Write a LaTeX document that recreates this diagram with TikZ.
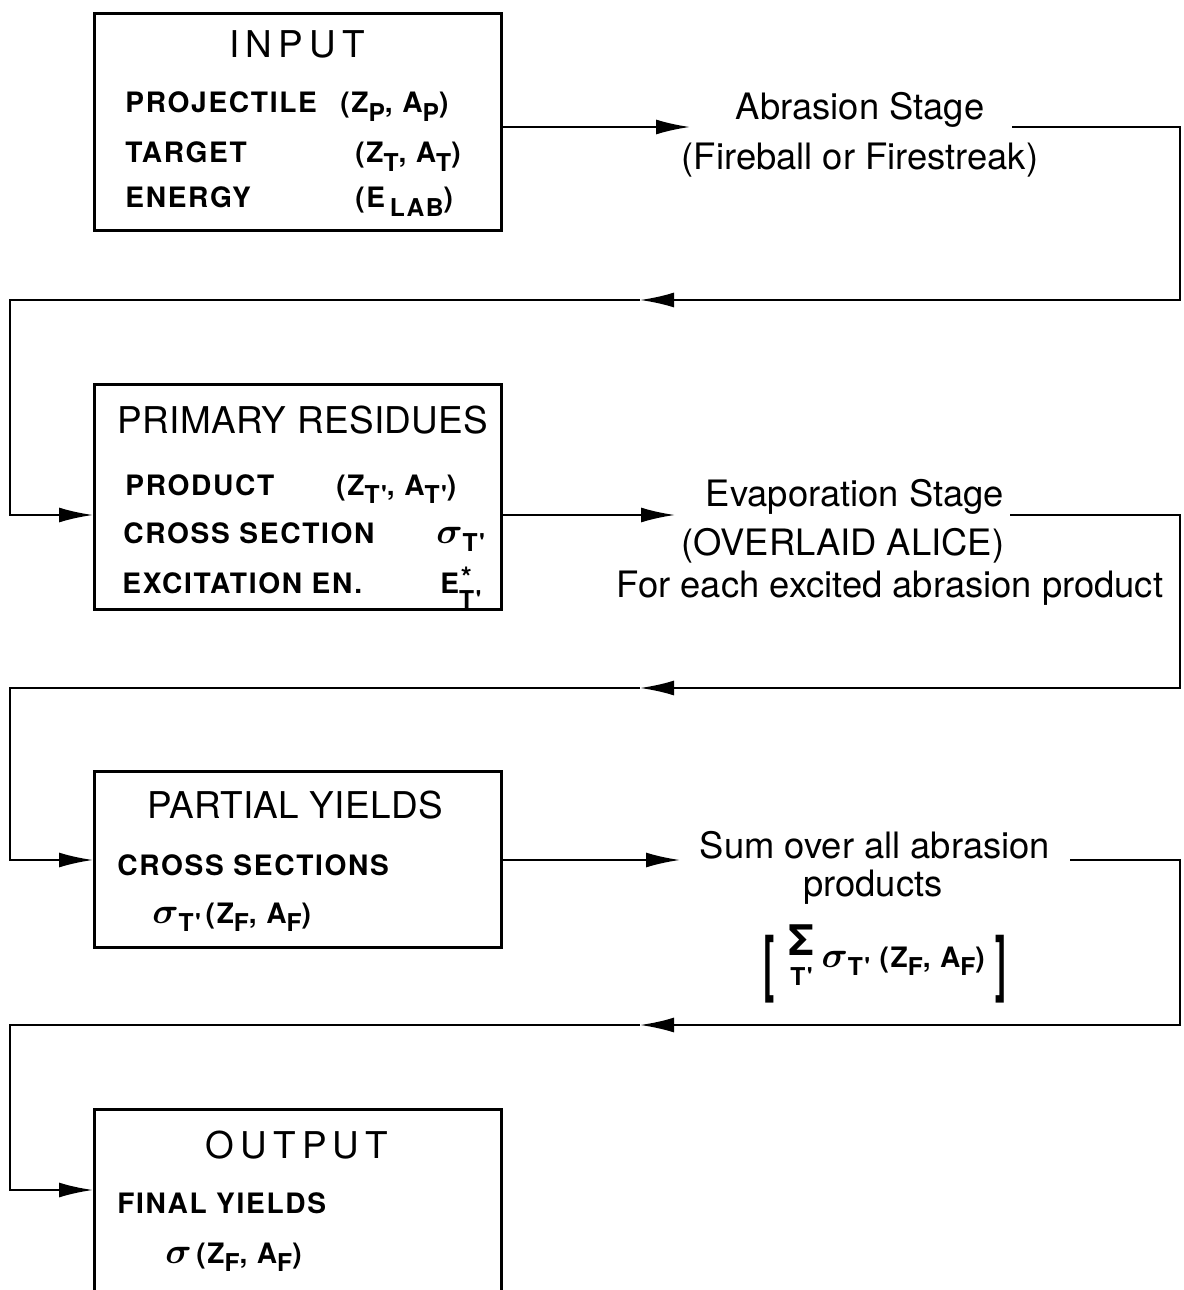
\documentclass[tikz,border=0pt]{standalone}
\usepackage{fontspec}
\usepackage{graphicx}
\usepackage{bm}
\setmainfont{TeX Gyre Heros}
\newfontfamily\labfont[LetterSpace=6]{TeX Gyre Heros}
\newfontfamily\ttlfont[LetterSpace=1]{TeX Gyre Heros}
\usetikzlibrary{arrows.meta}
\newcommand{\lowsub}[1]{\raisebox{-0.55ex}{\fontsize{14}{14}\selectfont #1}}
\newcommand{\estar}[1]{\raisebox{-1.05ex}{\begin{tabular}[b]{@{}l@{}}\fontsize{16}{16}\selectfont\hspace{1pt}*\\[-7pt]\fontsize{14}{14}\selectfont #1\end{tabular}}}
\newcommand{\sgm}{\scalebox{1.2}{$\bm\sigma$}}
\begin{document}
\begin{tikzpicture}[x=0.02cm,y=-0.02cm,
  box/.style={draw,line width=1.9pt,inner sep=0,anchor=north west,minimum width=8.14cm},
  conn/.style={line width=1.3pt},
  arr/.style={-{Latex[length=0.68cm,width=0.3cm]}},
  ttl/.style={font=\ttlfont\fontsize{21}{25}\selectfont,anchor=base,inner sep=0},
  lab/.style={font=\labfont\bfseries\fontsize{16}{19}\selectfont,anchor=base west,inner sep=0},
  side/.style={font=\fontsize{20.7}{24}\selectfont,anchor=base,inner sep=0}]
\useasboundingbox (0,0) rectangle (1183,1290);
\fill[white] (0,0) rectangle (1183,1290);
\clip (0,0) rectangle (1183,1290);

% boxes
\node[box,minimum height=4.34cm] (inbox) at (93,12) {};
\node[box,minimum height=4.5cm] (prbox) at (93,383) {};
\node[box,minimum height=3.52cm] (pybox) at (93,770) {};
\node[box,minimum height=4.2cm] (outbox) at (93,1108) {};

% INPUT
\node[ttl] (tin) at (297,58) {I\,N\,P\,U\,T};
\node[lab] (l1) at (125,113) {PROJECTILE};
\node[lab] (v1) at (340,113) {(Z\lowsub{P}, A\lowsub{P})};
\node[lab] (l2) at (125,163) {TARGET};
\node[lab] (v2) at (355,163) {(Z\lowsub{T}, A\lowsub{T})};
\node[lab] (l3) at (125,208) {ENERGY};
\node[lab] (v3) at (355,208) {(E\,\lowsub{LAB})};

% PRIMARY RESIDUES
\node[ttl] (tpr) at (303,433) {PRIMARY RESIDUES};
\node[lab] (l4) at (125,495) {PRODUCT};
\node[lab] (v4) at (336,495) {(Z\lowsub{T'}, A\lowsub{T'})};
\node[lab] (l5) at (123,543) {CROSS SECTION};
\node[lab] (v5) at (436,543) {\sgm\lowsub{T'}};
\node[lab] (l6) at (122,593) {EXCITATION EN.};
\node[lab] (v6) at (440,593) {E\estar{T'}};

% PARTIAL YIELDS
\node[ttl] (tpy) at (295,818) {PARTIAL YIELDS};
\node[lab] (l7) at (117,875) {CROSS SECTIONS};
\node[lab] (v7) at (152,923) {\sgm\lowsub{T'}\,(Z\lowsub{F}, A\lowsub{F})};

% OUTPUT
\node[ttl] (tout) at (297,1158) {O\,U\,T\,P\,U\,T};
\node[lab] (l8) at (117,1213) {FINAL YIELDS};
\node[lab] (v8) at (165,1263) {\sgm\,(Z\lowsub{F}, A\lowsub{F})};

% side texts
\node[side] (abr1) at (860,120) {Abrasion Stage};
\node[side] (abr2) at (860,170) {(Fireball or Firestreak)};
\node[side] (ev1) at (855,506) {Evaporation Stage};
\node[side] (ev2) at (843,555) {(OVERLAID ALICE)};
\node[side] (ev3) at (890,597) {For each excited abrasion product};
\node[side] (s1) at (875,858) {Sum over all abrasion};
\node[side] (s2) at (873,896) {products};
\node[lab,anchor=center] (s3) at (885,964) {\raisebox{-0.75em}{\scalebox{1.2}[2.6]{[}}\hspace{8pt}\begin{tabular}[c]{@{}c@{}}\fontsize{24}{24}\selectfont Σ\\[-2pt]\fontsize{14}{14}\selectfont T'\end{tabular}\hspace{4pt}\sgm\lowsub{T'}\,\,(Z\lowsub{F}, A\lowsub{F})\hspace{6pt}\raisebox{-0.75em}{\scalebox{1.2}[2.6]{]}}};

% connector 1
\coordinate (a1) at (690,127);
\draw[conn,arr] (inbox.east |- a1) -- (a1);
\coordinate (b1) at (1012,127);
\coordinate (c1) at (1180,127);
\coordinate (d1) at (1180,300);
\coordinate (m1) at (640,300);
\coordinate (e1) at (10,300);
\coordinate (f1) at (10,515);
\draw[conn,arr] (b1) -- (c1) -- (d1) -- (m1);
\draw[conn,arr] (m1) -- (e1) -- (f1) -- (prbox.west |- f1);

% connector 2
\coordinate (a2) at (675,515);
\draw[conn,arr] (prbox.east |- a2) -- (a2);
\coordinate (b2) at (1010,515);
\coordinate (c2) at (1180,515);
\coordinate (d2) at (1180,688);
\coordinate (m2) at (640,688);
\coordinate (e2) at (10,688);
\coordinate (f2) at (10,860);
\draw[conn,arr] (b2) -- (c2) -- (d2) -- (m2);
\draw[conn,arr] (m2) -- (e2) -- (f2) -- (pybox.west |- f2);

% connector 3
\coordinate (a3) at (680,860);
\draw[conn,arr] (pybox.east |- a3) -- (a3);
\coordinate (b3) at (1070,860);
\coordinate (c3) at (1180,860);
\coordinate (d3) at (1180,1025);
\coordinate (m3) at (640,1025);
\coordinate (e3) at (10,1025);
\coordinate (f3) at (10,1190);
\draw[conn,arr] (b3) -- (c3) -- (d3) -- (m3);
\draw[conn,arr] (m3) -- (e3) -- (f3) -- (outbox.west |- f3);
\end{tikzpicture}
\end{document}
